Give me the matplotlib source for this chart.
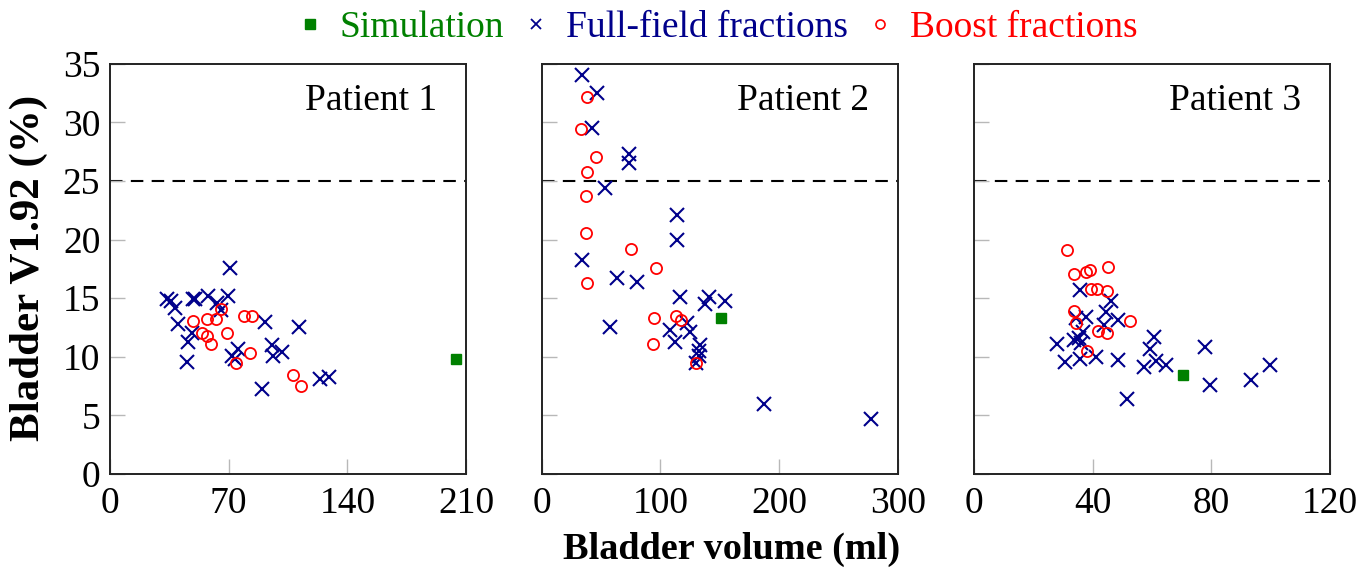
import numpy as np
import matplotlib
matplotlib.use("Agg")
import matplotlib.pyplot as plt
from matplotlib.lines import Line2D

plt.rcParams['font.family'] = ['Liberation Serif', 'DejaVu Serif']

# Patient 1
p1_full_vol = [33.5, 35.8, 38.4, 48.8, 50.2, 58.1, 63.0, 69.9, 70.9, 65.3, 40.3, 48.2, 46.3,
               45.3, 71.8, 73.8, 75.8, 91.5, 95.5, 96.4, 101.4, 111.2, 89.6, 124.0, 128.9]
p1_full_v192 = [14.96, 14.8, 14.2, 14.96, 14.96, 15.2, 14.6, 15.2, 17.6, 14.0, 12.8, 12.05, 11.3,
                9.55, 10.1, 9.8, 10.7, 13.0, 11.0, 10.1, 10.4, 12.5, 7.27, 8.1, 8.26]
p1_boost_vol = [48.8, 57.5, 62.6, 65.3, 54.5, 57.5, 59.6, 69.3, 79.1, 83.6, 82.3, 74.2, 107.7, 112.6]
p1_boost_v192 = [13.05, 13.2, 13.2, 14.05, 12.05, 11.77, 11.06, 12.05, 13.5, 13.5, 10.34, 9.49, 8.46, 7.47]
p1_sim_vol = [204.3]
p1_sim_v192 = [9.77]

# Patient 2
p2_full_vol = [33.8, 46.5, 42.3, 73.2, 73.2, 53.5, 114.1, 114.1, 33.8, 63.4, 80.3, 116.9, 140.8,
               138.0, 154.9, 57.7, 122.5, 125.4, 108.5, 112.7, 133.8, 132.4, 132.4, 130.4, 187.3, 277.5]
p2_full_v192 = [34.06, 32.5, 29.5, 27.3, 26.5, 24.4, 22.1, 19.96, 18.25, 16.7, 16.4, 15.1, 15.1,
                14.5, 14.8, 12.55, 12.9, 12.1, 12.3, 11.3, 11.0, 10.5, 10.04, 9.5, 6.0, 4.7]
p2_boost_vol = [38.6, 33.0, 45.6, 38.6, 37.2, 37.2, 75.2, 96.3, 38.6, 94.9, 113.2, 117.7, 93.5, 130.4]
p2_boost_v192 = [32.2, 29.4, 27.05, 25.74, 23.7, 20.6, 19.2, 17.6, 16.3, 13.3, 13.46, 13.1, 11.07, 9.5]
p2_sim_vol = [151.3]
p2_sim_v192 = [13.3]

# Patient 3
p3_full_vol = [35.8, 46.2, 44.5, 37.7, 34.4, 48.7, 43.9, 36.6, 35.5, 33.8, 36.1, 27.9, 60.8,
               59.2, 30.8, 35.8, 41.1, 48.7, 57.2, 61.4, 64.6, 77.7, 79.4, 51.6, 93.2, 99.9]
p3_full_v192 = [15.7, 14.8, 13.8, 13.4, 13.3, 13.1, 12.75, 12.1, 11.6, 11.4, 11.2, 11.1, 11.7,
                10.7, 9.57, 9.77, 9.97, 9.7, 9.1, 9.6, 9.3, 10.85, 7.56, 6.4, 8.0, 9.26]
p3_boost_vol = [31.5, 33.8, 37.7, 39.1, 45.3, 39.4, 41.4, 44.7, 33.8, 34.4, 41.7, 44.7, 52.6, 38.0]
p3_boost_v192 = [19.1, 17.1, 17.2, 17.4, 17.7, 15.8, 15.8, 15.65, 13.9, 12.9, 12.2, 12.05, 13.04, 10.5]
p3_sim_vol = [70.6]
p3_sim_v192 = [8.44]

patients = ["Patient 1", "Patient 2", "Patient 3"]
x_ticks = [[0, 70, 140, 210], [0, 100, 200, 300], [0, 40, 80, 120]]
y_ticks = [0, 5, 10, 15, 20, 25, 30, 35]
limit_v192 = 25

full_data = [(p1_full_vol, p1_full_v192), (p2_full_vol, p2_full_v192), (p3_full_vol, p3_full_v192)]
boost_data = [(p1_boost_vol, p1_boost_v192), (p2_boost_vol, p2_boost_v192), (p3_boost_vol, p3_boost_v192)]
sim_data = [(p1_sim_vol, p1_sim_v192), (p2_sim_vol, p2_sim_v192), (p3_sim_vol, p3_sim_v192)]

c_sim = '#008000'
c_full = '#00008B'
c_boost = '#FF0000'

fig = plt.figure(figsize=(13.63, 5.69), dpi=100)
lefts = [0.0807, 0.3974, 0.7146]
axes = []
for i in range(3):
    ax = fig.add_axes([lefts[i], 0.167, 0.2612, 0.721])
    axes.append(ax)
    ax.axhline(limit_v192, color='black', lw=1.5, ls=(0, (6, 4)), zorder=1)
    ax.plot(full_data[i][0], full_data[i][1], ls='none', marker='x', ms=10, mew=1.5,
            color=c_full, zorder=3)
    ax.plot(boost_data[i][0], boost_data[i][1], ls='none', marker='o', ms=8, mew=1.3,
            mfc='none', mec=c_boost, zorder=3)
    ax.plot(sim_data[i][0], sim_data[i][1], ls='none', marker='s', ms=7.5,
            color=c_sim, zorder=4)
    ax.set_xlim(x_ticks[i][0], x_ticks[i][-1])
    ax.set_ylim(0, 35)
    ax.set_xticks(x_ticks[i])
    ax.set_yticks(y_ticks)
    ax.tick_params(direction='in', length=11, width=1, color='#b8b8b8', labelsize=27,
                   top=False, right=False)
    ax.tick_params(axis='x', pad=9)
    ax.tick_params(axis='y', pad=7)
    if i > 0:
        ax.set_yticklabels([])
    for sp in ax.spines.values():
        sp.set_linewidth(1.4)
        sp.set_color('#222222')
    ax.text(0.92, 0.888, patients[i], transform=ax.transAxes, ha='right', va='baseline',
            fontsize=27)

fig.text(0.021, 0.529, "Bladder V1.92 (%)", rotation=90, ha='center', va='center',
         fontsize=31, fontweight='bold')
fig.text(0.537, 0.018, "Bladder volume (ml)", ha='center', va='baseline', fontsize=27.5,
         fontweight='bold')

handles = [
    Line2D([], [], ls='none', marker='s', ms=7, color=c_sim),
    Line2D([], [], ls='none', marker='x', ms=7, mew=1.3, color=c_full),
    Line2D([], [], ls='none', marker='o', ms=6.5, mew=1.2, mfc='none', mec=c_boost),
]
fig.legend(handles, ["Simulation", "Full-field fractions", "Boost fractions"],
           loc='center', bbox_to_anchor=(0.526, 0.951), ncol=3, frameon=False,
           fontsize=27, handlelength=0.7, handletextpad=0.45, columnspacing=0.5,
           labelcolor=[c_sim, c_full, c_boost], borderaxespad=0)

fig.savefig("out.png", dpi=100)
